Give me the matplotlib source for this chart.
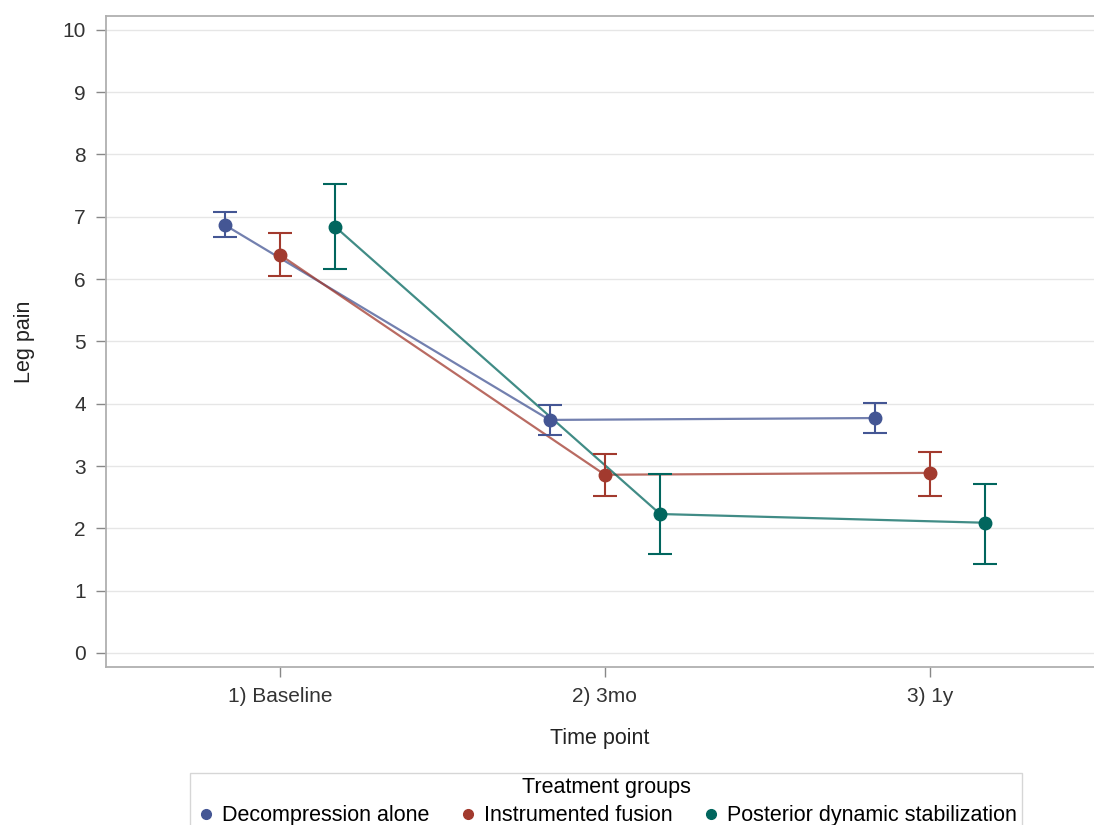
import numpy as np
import matplotlib
matplotlib.use("Agg")
import matplotlib.pyplot as plt
from matplotlib.lines import Line2D

plt.rcParams['font.family'] = ['Liberation Sans', 'DejaVu Sans']

## data
time_points = ['1) Baseline', '2) 3mo', '3) 1y']
groups = ['Decompression alone', 'Instrumented fusion', 'Posterior dynamic stabilization']

decomp_mean = [6.87, 3.74, 3.77]
decomp_low = [6.68, 3.50, 3.53]
decomp_high = [7.08, 3.98, 4.01]

fusion_mean = [6.39, 2.86, 2.89]
fusion_low = [6.05, 2.52, 2.52]
fusion_high = [6.74, 3.19, 3.23]

pds_mean = [6.84, 2.23, 2.09]
pds_low = [6.16, 1.59, 1.43]
pds_high = [7.53, 2.87, 2.71]

colors = ['#445694', '#A23A2E', '#01665E']
offsets = [-0.17, 0.0, 0.17]

############################################################################
## figure
############################################################################
fig = plt.figure(figsize=(10.94, 8.25), dpi=100)
ax = fig.add_axes([0.0969, 0.1915, 0.9031, 0.789])

series = [(decomp_mean, decomp_low, decomp_high),
          (fusion_mean, fusion_low, fusion_high),
          (pds_mean, pds_low, pds_high)]

x = np.arange(len(time_points))
for i, (m, lo, hi) in enumerate(series):
    m = np.array(m)
    yerr = [m - np.array(lo), np.array(hi) - m]
    xx = x + offsets[i]
    ax.plot(xx, m, color=colors[i], lw=1.6, alpha=0.75, zorder=3)
    ax.errorbar(xx, m, yerr=yerr, fmt='o', color=colors[i], ms=9,
                ecolor=colors[i], elinewidth=1.5, capsize=8.5, capthick=1.5,
                zorder=4)

ax.set_xlim(-0.535, 2.505)
ax.set_ylim(-0.225, 10.22)
ax.set_xticks(x)
ax.set_xticklabels(time_points)
ax.set_yticks(range(0, 11))
ax.grid(axis='y', color='#e6e6e6', lw=1.0, zorder=0)
ax.set_axisbelow(True)

for s in ['left', 'bottom', 'top']:
    ax.spines[s].set_color('#b0b0b0')
    ax.spines[s].set_linewidth(1.3)
ax.spines['right'].set_visible(False)
ax.tick_params(axis='both', colors='#888888', length=7.5, width=1,
               labelsize=15, labelcolor='#333333', pad=7)

ax.set_xlabel('Time point', fontsize=15.5, color='#222222', labelpad=16)
ax.set_ylabel('Leg pain', fontsize=15.5, color='#222222', labelpad=20)

## legend with dot markers only
handles = [Line2D([], [], ls='', marker='o', ms=7, color=c) for c in colors]
leg = fig.legend(handles, groups, loc='upper center', bbox_to_anchor=(0.554, 0.076),
                 ncol=3, title='Treatment groups', fontsize=15.5,
                 title_fontsize=15.5, frameon=True, handletextpad=0.25,
                 columnspacing=1.3, borderpad=0.2, handlelength=1.0,
                 labelspacing=0.1, fancybox=False, edgecolor='#cccccc')
leg._legend_box.sep = 5

fig.savefig('out.png', dpi=100, facecolor='white')
